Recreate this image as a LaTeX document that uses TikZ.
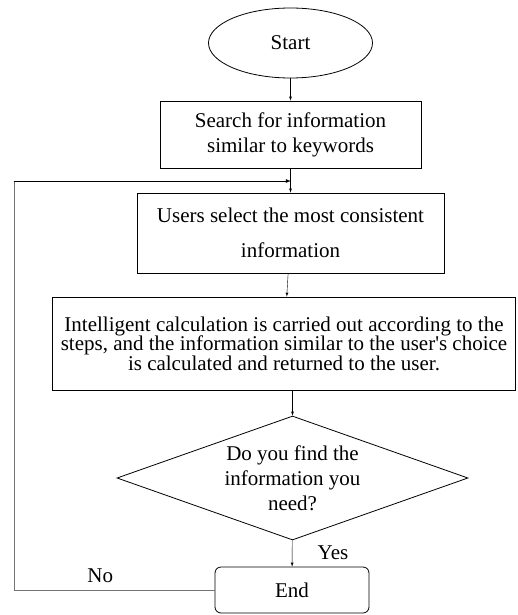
\documentclass[tikz,border=0pt]{standalone}
\usepackage{fontspec}
\setmainfont{Liberation Serif}
\usetikzlibrary{shapes.geometric}

\begin{document}
\begin{tikzpicture}[x=1pt, y=-1pt, >=latex,
    every node/.style={font=\fontsize{21}{25}\selectfont},
    box/.style={shape=rectangle, draw=black, thick, align=center, inner sep=0pt},
    loopline/.style={draw=black!55, thick}]
    \useasboundingbox (0,0) rectangle (517,615);
    \node[shape=ellipse, draw=black, thick, minimum width=164pt, minimum height=70pt, inner sep=0pt] at (290.5,43) (P0) {Start};
    \node[box, minimum width=261pt, minimum height=67pt] at (290.5,134.5) (P1) {Search for information\\similar to keywords};
    \node[box, minimum width=307pt, minimum height=80pt] at (290.5,233) (P2) {Users select the most consistent\\[10pt]information};
    \node[box, minimum width=463pt, minimum height=93pt] at (284,343.5) (P3) {Intelligent calculation is carried out according to the\\[-5.5pt]steps, and the information similar to the user\textquotesingle s choice\\[-5.5pt]is calculated and returned to the user.};
    \node[shape=diamond, draw=black, thick, aspect=2.83, minimum width=351pt, minimum height=124pt, inner sep=0pt, align=center] at (292.5,478) (P4) {Do you find the\\information you\\need?};
    \node[box, rounded corners=6pt, minimum width=154pt, minimum height=46pt] at (292,590) (P5) {End};
    \coordinate (J) at (291,181);
    \coordinate (C1) at (14,590);
    \coordinate (C2) at (14,181);
    \path [->] (P0) edge (P1);
    \path [->] (P1) edge (P2);
    \path [->] (P2) edge (P3);
    \path [->] (P3.south -| P4.north) edge (P4);
    \path [->] (P4) edge node[right, xshift=22pt, yshift=1pt] {Yes} (P5);
    \draw[loopline] (P5.west) -- node[pos=0.57, above, yshift=4pt] {No} (C1) -- (C2);
    \draw[->, thick] (C2) -- (J);
\end{tikzpicture}
\end{document}
